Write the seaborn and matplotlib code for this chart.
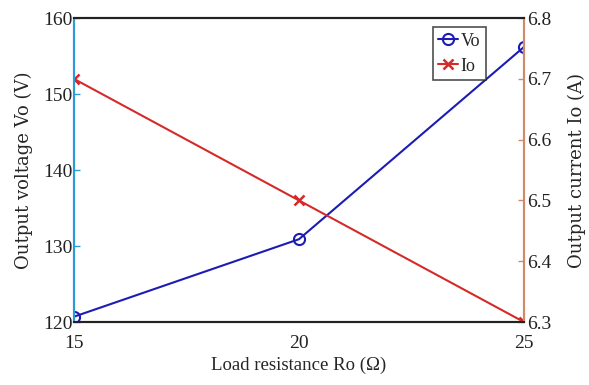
import matplotlib
matplotlib.use("Agg")
import matplotlib.pyplot as plt
import seaborn as sns
import pandas as pd

# Load resistance sweep and measured outputs
load_resistance = [15, 20, 25]
output_voltage = [120.7, 130.9, 156.2]
output_current = [6.7, 6.5, 6.3]

sns.set_style("white")
plt.rcParams["font.family"] = ["Liberation Serif", "DejaVu Serif"]

df = pd.DataFrame({"Ro": load_resistance, "Vo": output_voltage, "Io": output_current})

BLUE = "#1c1cb4"
RED = "#d42a2a"
SPINE_L = "#2a9bd6"
SPINE_R = "#d08a6a"
DARK = "#222222"

fig = plt.figure(figsize=(5.89, 3.85), dpi=100)
ax = fig.add_axes([0.1256, 0.1636, 0.764, 0.7894])
ax2 = ax.twinx()

sns.lineplot(data=df, x="Ro", y="Vo", ax=ax, color=BLUE, marker="o",
             markersize=8, markerfacecolor="none", markeredgecolor=BLUE,
             markeredgewidth=1.5, linewidth=1.5, label="Vo", legend=False)
sns.lineplot(data=df, x="Ro", y="Io", ax=ax2, color=RED, marker="x",
             markersize=7, markeredgecolor=RED, markeredgewidth=1.8,
             linewidth=1.5, label="Io", legend=False)

ax.set_xlim(15, 25)
ax.set_ylim(120, 160)
ax2.set_ylim(6.3, 6.8)
ax.set_xticks([15, 20, 25])
ax.set_yticks([120, 130, 140, 150, 160])
ax2.set_yticks([6.3, 6.4, 6.5, 6.6, 6.7, 6.8])
ax2.set_yticklabels(["6.3", "6.4", "6.5", "6.6", "6.7", "6.8"])

ax.set_xlabel("Load resistance Ro (\u03a9)", fontsize=13.5, labelpad=4)
ax.set_ylabel("Output voltage Vo (V)", fontsize=13, labelpad=7,
              family="DejaVu Serif")
ax2.set_ylabel("Output current Io (A)", fontsize=13, labelpad=12,
               family="DejaVu Serif")

for a in (ax, ax2):
    for s in a.spines.values():
        s.set_linewidth(1.5)
        s.set_color(DARK)
    a.spines["left"].set_color(SPINE_L)
    a.spines["right"].set_color(SPINE_R)

ax.tick_params(axis="both", direction="in", length=4, labelsize=14, width=1)
ax.tick_params(axis="y", colors=SPINE_L, labelcolor=DARK, pad=1)
ax.tick_params(axis="x", colors=DARK, labelcolor=DARK, pad=9)
ax2.tick_params(axis="y", direction="in", length=4, labelsize=14, width=1,
                colors=SPINE_R, labelcolor=DARK, pad=2)

h1, l1 = ax.get_legend_handles_labels()
h2, l2 = ax2.get_legend_handles_labels()
leg = ax2.legend(h1 + h2, l1 + l2, loc="upper left",
                 bbox_to_anchor=(0.797, 0.97), fontsize=13, frameon=True,
                 fancybox=False, handlelength=1.1, handletextpad=0.15,
                 borderpad=0.3, labelspacing=0.45, borderaxespad=0)
leg.get_frame().set_edgecolor(DARK)
leg.get_frame().set_linewidth(1.2)

fig.savefig("out.png", dpi=100)
